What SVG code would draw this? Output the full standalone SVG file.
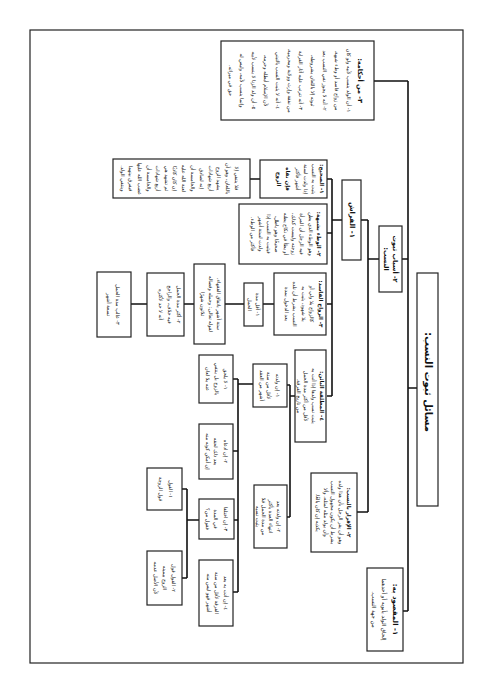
<svg xmlns="http://www.w3.org/2000/svg" width="491" height="694" viewBox="0 0 491 694">
<style>
.bg{fill:#fff}
.frame{fill:none;stroke:#222;stroke-width:1.2}
.box{fill:#fff;stroke:#222;stroke-width:1.2}
.ln{fill:none;stroke:#111;stroke-width:1.6}
text{font-family:"DejaVu Sans",sans-serif;fill:#111;text-anchor:middle}
.t{font-size:5px}
.h{font-size:5.5px;font-weight:bold}
.big{font-size:10px;font-weight:bold}
</style>
<rect class="bg" x="0" y="0" width="491" height="694"/>
<rect class="frame" x="30" y="30" width="433" height="633"/>
<g id="connectors">
<path class="ln" d="M408,81 V611 M417,388 H408 M374,81 H408 M402,259 H408 M403,611 H408"/>
<path class="ln" d="M368,220 V512 M379,259 H368 M361,220 H368 M357,512 H368"/>
<path class="ln" d="M332,179 V396 M342,220 H332 M327,179 H332 M327,233 H332 M327,304 H332 M327,396 H332 M250,179 H260"/>
<path class="ln" d="M274,304 H263 M244,304 H225 M194,304 H184 M147,304 H131"/>
<path class="ln" d="M295,396 H290 M290,385 V517 M287,385 H290 M287,517 H290"/>
<path class="ln" d="M253,384 H238 M238,379 V592 M233,379 H238 M233,451 H238 M234,520 H238 M233,592 H238"/>
<path class="ln" d="M199,520 H187 M187,489 V578 M182,489 H187 M182,578 H187"/>
</g>
<g id="root">
<rect class="box" x="417" y="273" width="21" height="233"/>
<text class="big" transform="translate(424.5,382) rotate(90)">&#x200F;مسائل ثبوت النسب:&#x200F;</text>
</g>
<g id="n-ahkam">
<rect class="box" x="221" y="41" width="153" height="79"/>
<text class="h" style="font-size:6.5px" transform="translate(358,80.5) rotate(90)">&#x200F;٣- من أحكامه:&#x200F;</text>
<text class="t" transform="translate(346.5,80.5) rotate(90)">&#x200F;١- أن الولد ينسب لأبيه ولو كان&#x200F;</text>
<text class="t" transform="translate(334.7,80.5) rotate(90)">&#x200F;من زواج فاسد أو وطء شبهة،&#x200F;</text>
<text class="t" transform="translate(322.9,80.5) rotate(90)">&#x200F;٢- أنه لا يجوز نفي النسب بعد&#x200F;</text>
<text class="t" transform="translate(311.1,80.5) rotate(90)">&#x200F;ثبوته إلا باللعان بشروطه،&#x200F;</text>
<text class="t" transform="translate(299.3,80.5) rotate(90)">&#x200F;٣- أنه تترتب عليه آثار القرابة&#x200F;</text>
<text class="t" transform="translate(287.5,80.5) rotate(90)">&#x200F;من نفقة وإرث وولاية ومحرمية،&#x200F;</text>
<text class="t" transform="translate(275.7,80.5) rotate(90)">&#x200F;٤- أنه لا يثبت النسب بالتبني&#x200F;</text>
<text class="t" transform="translate(263.9,80.5) rotate(90)">&#x200F;لأن الإسلام أبطله وحرمه،&#x200F;</text>
<text class="t" transform="translate(252.1,80.5) rotate(90)">&#x200F;٥- أن ولد الزنا لا ينسب لأبيه&#x200F;</text>
<text class="t" transform="translate(240.3,80.5) rotate(90)">&#x200F;وإنما ينسب لأمه، وليس له&#x200F;</text>
<text class="t" transform="translate(228.5,80.5) rotate(90)">&#x200F;حق في ميراثه.&#x200F;</text>
</g>
<g id="n-asbab">
<rect class="box" x="379" y="226" width="23" height="66"/>
<text class="h" style="font-size:6.5px" transform="translate(393,259) rotate(90)">&#x200F;٢- أسباب ثبوت&#x200F;</text>
<text class="h" style="font-size:6.5px" transform="translate(384,259) rotate(90)">&#x200F;النسب:&#x200F;</text>
</g>
<g id="n-maqsud">
<rect class="box" x="367" y="568" width="36" height="83"/>
<text class="h" style="font-size:7px" transform="translate(393,609.5) rotate(90)">&#x200F;١- المقصود به:&#x200F;</text>
<text class="t" style="font-size:5.5px" transform="translate(381.5,609.5) rotate(90)">&#x200F;إلحاق الولد بأبويه أو أحدهما&#x200F;</text>
<text class="t" style="font-size:5.5px" transform="translate(371.5,609.5) rotate(90)">&#x200F;من جهة النسب.&#x200F;</text>
</g>
<g id="n-firash">
<rect class="box" x="342" y="180" width="19" height="80"/>
<text class="h" style="font-size:7px" transform="translate(350,220) rotate(90)">&#x200F;١- الفراش&#x200F;</text>
</g>
<g id="n-iqrar">
<rect class="box" x="311" y="473" width="46" height="79"/>
<text class="h" transform="translate(346.5,512.5) rotate(90)">&#x200F;٢- الإقرار بالنسب:&#x200F;</text>
<text class="t" transform="translate(338.5,512.5) rotate(90)">&#x200F;وهو أن يقر الرجل بأن هذا ولده&#x200F;</text>
<text class="t" transform="translate(331,512.5) rotate(90)">&#x200F;بشرط أن يكون مجهول النسب&#x200F;</text>
<text class="t" transform="translate(323.5,512.5) rotate(90)">&#x200F;وأن يولد مثله لمثله، وألا&#x200F;</text>
<text class="t" transform="translate(316,512.5) rotate(90)">&#x200F;يكذبه إن كان بالغًا.&#x200F;</text>
</g>
<g id="n-a">
<rect class="box" x="260" y="160" width="67" height="38"/>
<text class="h" transform="translate(319.5,179) rotate(90)">&#x200F;١- الصحيح:&#x200F;</text>
<text class="t" transform="translate(311.5,179) rotate(90)">&#x200F;يثبت به النسب&#x200F;</text>
<text class="t" transform="translate(303.5,179) rotate(90)">&#x200F;إذا ولدت لستة&#x200F;</text>
<text class="t" transform="translate(295.5,179) rotate(90)">&#x200F;أشهر فأكثر&#x200F;</text>
<text class="h" transform="translate(285.5,179) rotate(90)">&#x200F;فإن نفاه&#x200F;</text>
<text class="h" transform="translate(276.5,179) rotate(90)">&#x200F;الزوج&#x200F;</text>
</g>
<g id="n-a1">
<rect class="box" x="113" y="159" width="137" height="39"/>
<text class="t" transform="translate(235,178.5) rotate(90)">&#x200F;فلا ينتفي إلا&#x200F;</text>
<text class="t" transform="translate(226.2,178.5) rotate(90)">&#x200F;باللعان، وهو أن&#x200F;</text>
<text class="t" transform="translate(217.4,178.5) rotate(90)">&#x200F;يشهد الزوج&#x200F;</text>
<text class="t" transform="translate(208.6,178.5) rotate(90)">&#x200F;أربع شهادات&#x200F;</text>
<text class="t" transform="translate(199.8,178.5) rotate(90)">&#x200F;إنه لصادق&#x200F;</text>
<text class="t" transform="translate(191,178.5) rotate(90)">&#x200F;والخامسة أن&#x200F;</text>
<text class="t" transform="translate(182.2,178.5) rotate(90)">&#x200F;لعنة الله عليه&#x200F;</text>
<text class="t" transform="translate(173.4,178.5) rotate(90)">&#x200F;إن كان كاذبًا&#x200F;</text>
<text class="t" transform="translate(164.6,178.5) rotate(90)">&#x200F;ثم تشهد هي&#x200F;</text>
<text class="t" transform="translate(155.8,178.5) rotate(90)">&#x200F;أربع شهادات&#x200F;</text>
<text class="t" transform="translate(147,178.5) rotate(90)">&#x200F;والخامسة أن&#x200F;</text>
<text class="t" transform="translate(138.2,178.5) rotate(90)">&#x200F;غضب الله عليها&#x200F;</text>
<text class="t" transform="translate(129.4,178.5) rotate(90)">&#x200F;فيفرق بينهما&#x200F;</text>
<text class="t" transform="translate(120.6,178.5) rotate(90)">&#x200F;وينتفي الولد.&#x200F;</text>
</g>
<g id="n-b">
<rect class="box" x="239" y="204" width="88" height="60"/>
<text class="h" transform="translate(316.5,234) rotate(90)">&#x200F;٢- الوطء بشبهة:&#x200F;</text>
<text class="t" transform="translate(308.5,234) rotate(90)">&#x200F;وهو الوطء الذي يظن&#x200F;</text>
<text class="t" transform="translate(300.3,234) rotate(90)">&#x200F;فيه الرجل أن المرأة&#x200F;</text>
<text class="t" transform="translate(292,234) rotate(90)">&#x200F;زوجته وليست كذلك،&#x200F;</text>
<text class="t" transform="translate(283.7,234) rotate(90)">&#x200F;أو يطأ في نكاح يظنه&#x200F;</text>
<text class="t" transform="translate(275.4,234) rotate(90)">&#x200F;صحيحًا وهو باطل،&#x200F;</text>
<text class="t" transform="translate(267.1,234) rotate(90)">&#x200F;فيثبت به النسب إذا&#x200F;</text>
<text class="t" transform="translate(258.8,234) rotate(90)">&#x200F;ولدت لستة أشهر&#x200F;</text>
<text class="t" transform="translate(250.5,234) rotate(90)">&#x200F;فأكثر من الوطء.&#x200F;</text>
</g>
<g id="n-c">
<rect class="box" x="274" y="273" width="52" height="62"/>
<text class="h" transform="translate(318.5,304) rotate(90)">&#x200F;٣- الزواج الفاسد:&#x200F;</text>
<text class="t" transform="translate(310,304) rotate(90)">&#x200F;كالزواج بلا ولي أو&#x200F;</text>
<text class="t" transform="translate(301.5,304) rotate(90)">&#x200F;بلا شهود، يثبت به&#x200F;</text>
<text class="t" transform="translate(293,304) rotate(90)">&#x200F;النسب بشرط أن تلده&#x200F;</text>
<text class="t" transform="translate(284.5,304) rotate(90)">&#x200F;بعد الدخول بمدة&#x200F;</text>
</g>
<g id="n-c1">
<rect class="box" x="244" y="283" width="19" height="43"/>
<text class="t" transform="translate(255.5,304.5) rotate(90)">&#x200F;١- أقل مدة&#x200F;</text>
<text class="t" transform="translate(248,304.5) rotate(90)">&#x200F;الحمل&#x200F;</text>
</g>
<g id="n-c2">
<rect class="box" x="194" y="264" width="31" height="80"/>
<text class="t" transform="translate(217,304) rotate(90)">&#x200F;ستة أشهر باتفاق الفقهاء،&#x200F;</text>
<text class="t" transform="translate(209,304) rotate(90)">&#x200F;لقوله تعالى: وحمله وفصاله&#x200F;</text>
<text class="t" transform="translate(201,304) rotate(90)">&#x200F;ثلاثون شهرًا&#x200F;</text>
</g>
<g id="n-c3">
<rect class="box" x="147" y="273" width="37" height="63"/>
<text class="t" transform="translate(176.5,304.5) rotate(90)">&#x200F;٢- أكثر مدة الحمل&#x200F;</text>
<text class="t" transform="translate(167.5,304.5) rotate(90)">&#x200F;فيه خلاف، والراجح&#x200F;</text>
<text class="t" transform="translate(158.5,304.5) rotate(90)">&#x200F;أنه لا حد لأكثره&#x200F;</text>
</g>
<g id="n-c4">
<rect class="box" x="97" y="272" width="34" height="65"/>
<text class="t" transform="translate(115.5,304.5) rotate(90)">&#x200F;٣- غالب مدة الحمل&#x200F;</text>
<text class="t" transform="translate(106.5,304.5) rotate(90)">&#x200F;تسعة أشهر&#x200F;</text>
</g>
<g id="n-d">
<rect class="box" x="295" y="350" width="31" height="92"/>
<text class="h" transform="translate(319.5,396) rotate(90)">&#x200F;٤- المطلقة البائن:&#x200F;</text>
<text class="t" transform="translate(311.5,396) rotate(90)">&#x200F;يثبت نسب ولدها إذا أتت به&#x200F;</text>
<text class="t" transform="translate(304,396) rotate(90)">&#x200F;لأقل من أكثر مدة الحمل&#x200F;</text>
<text class="t" transform="translate(296.8,396) rotate(90)">&#x200F;من تاريخ الفرقة.&#x200F;</text>
</g>
<g id="n-e">
<rect class="box" x="253" y="364" width="34" height="43"/>
<text class="t" transform="translate(275.5,385.5) rotate(90)">&#x200F;١- إن ولدته&#x200F;</text>
<text class="t" transform="translate(267,385.5) rotate(90)">&#x200F;لأقل من ستة&#x200F;</text>
<text class="t" transform="translate(259.5,385.5) rotate(90)">&#x200F;أشهر من العقد&#x200F;</text>
</g>
<g id="n-f">
<rect class="box" x="254" y="485" width="33" height="63"/>
<text class="t" transform="translate(277,516.5) rotate(90)">&#x200F;٢- إن ولدته بعد&#x200F;</text>
<text class="t" transform="translate(269,516.5) rotate(90)">&#x200F;انتهاء العدة بأكثر&#x200F;</text>
<text class="t" transform="translate(261.5,516.5) rotate(90)">&#x200F;من مدة الحمل فلا&#x200F;</text>
<text class="t" transform="translate(255.5,516.5) rotate(90)">&#x200F;يثبت نسبه&#x200F;</text>
</g>
<g id="n-g">
<rect class="box" x="199" y="355" width="34" height="48"/>
<text class="t" transform="translate(223.5,379) rotate(90)">&#x200F;١- لا يلحق&#x200F;</text>
<text class="t" transform="translate(215,379) rotate(90)">&#x200F;بالزوج بل ينتفي&#x200F;</text>
<text class="t" transform="translate(205.5,379) rotate(90)">&#x200F;عنه بلا لعان&#x200F;</text>
</g>
<g id="n-h">
<rect class="box" x="199" y="424" width="34" height="55"/>
<text class="t" transform="translate(223.5,451.5) rotate(90)">&#x200F;٢- إن ادعاه&#x200F;</text>
<text class="t" transform="translate(214,451.5) rotate(90)">&#x200F;بعد ذلك لحقه&#x200F;</text>
<text class="t" transform="translate(205.5,451.5) rotate(90)">&#x200F;إن أمكن كونه منه&#x200F;</text>
</g>
<g id="n-i">
<rect class="box" x="199" y="499" width="35" height="40"/>
<text class="t" transform="translate(223.5,519) rotate(90)">&#x200F;٣- إن اختلفا&#x200F;</text>
<text class="t" transform="translate(214,519) rotate(90)">&#x200F;في المدة&#x200F;</text>
<text class="t" transform="translate(205.5,519) rotate(90)">&#x200F;فقول من؟&#x200F;</text>
</g>
<g id="n-j">
<rect class="box" x="199" y="560" width="34" height="66"/>
<text class="t" transform="translate(223.5,593) rotate(90)">&#x200F;٤- إن أتت به بعد&#x200F;</text>
<text class="t" transform="translate(215,593) rotate(90)">&#x200F;الفرقة لأقل من ستة&#x200F;</text>
<text class="t" transform="translate(206.5,593) rotate(90)">&#x200F;أشهر فهو ليس منه&#x200F;</text>
</g>
<g id="n-k">
<rect class="box" x="147" y="468" width="35" height="42"/>
<text class="t" transform="translate(168.5,489) rotate(90)">&#x200F;١- القول&#x200F;</text>
<text class="t" transform="translate(159,489) rotate(90)">&#x200F;قول الزوجة&#x200F;</text>
</g>
<g id="n-l">
<rect class="box" x="147" y="551" width="35" height="54"/>
<text class="t" transform="translate(171.5,578) rotate(90)">&#x200F;٢- القول قول&#x200F;</text>
<text class="t" transform="translate(162.5,578) rotate(90)">&#x200F;الزوج بيمينه&#x200F;</text>
<text class="t" transform="translate(154,578) rotate(90)">&#x200F;لأن الأصل عدمه&#x200F;</text>
</g>
</svg>
